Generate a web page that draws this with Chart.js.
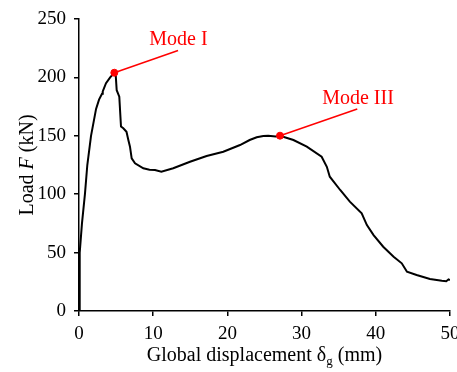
<!DOCTYPE html>
<html>
<head>
<meta charset="utf-8">
<script src="https://cdn.jsdelivr.net/npm/chart.js@4.4.1/dist/chart.umd.min.js"></script>
<style>
  html, body { margin: 0; padding: 0; background: #fff; }
  #wrap { width: 457px; height: 372px; }
</style>
</head>
<body>
<div id="wrap"><canvas id="loadChart"></canvas></div>
<script>
// load-displacement curve (mm, kN)
let dispMm = [0, 0.06, 0.13, 0.4, 0.8, 1.12, 1.62, 2.3, 2.7, 3.1, 3.2, 3.64, 4.2, 4.76,
  4.95, 5.08, 5.43, 5.66, 5.97, 6.4, 6.65, 6.87, 7.1, 7.55, 8.67, 9.5, 10.24, 11.1, 12.7, 14.96, 17.2, 19.45,
  21.7, 23.0, 23.95, 24.84, 25.5, 26.5, 27.09, 28.9, 30.7, 32.7, 33.4, 33.8, 35.2, 36.5, 38.1, 38.8, 39.7,
  41.0, 42.4, 43.5, 44.2, 45.5, 47.3, 48.9, 49.5, 49.8, 50];
let loadKn = [0, 25, 50, 75, 100, 125, 150, 173, 181, 186, 188, 195, 200, 204,
  202, 189, 183.5, 158, 156.4, 153.5, 146.4, 140.7, 130.7, 126.5, 122.2, 121, 120.7, 119.3, 122.2, 127.8, 132.7, 136.4,
  142.1, 146.4, 148.7, 149.8, 150, 149.5, 150.1, 146.4, 140.7, 132.1, 123.5, 115, 103.6, 93.6, 83.6, 73.6, 65,
  55, 46.5, 40.8, 33.6, 30.8, 27.4, 25.9, 25.5, 27.1, 26.5];

// failure modes: marked point, end of leader line, label centre
let modeNames = ['Mode I', 'Mode III'];
let modeX = [4.76, 27.09];
let modeY = [204, 150.1];
let leaderX = [13.35, 37.5];
let leaderY = [223, 173];
let labelX = [13.4, 37.6];
let labelY = [232.5, 182];

let xTicks = [0, 10, 20, 30, 40, 50];
let yTicks = [0, 50, 100, 150, 200, 250];

const serif = '"Liberation Serif", "Times New Roman", serif';

let curve = dispMm.map((d, i) => ({ x: d, y: loadKn[i] }));

let leaderSets = modeNames.map((name, i) => ({
  label: name + ' leader',
  data: [{ x: modeX[i], y: modeY[i] }, { x: leaderX[i], y: leaderY[i] }],
  borderColor: '#ff0000',
  borderWidth: 1.5,
  pointRadius: 0,
  showLine: true,
  order: 1
}));

// draws the mode names and the axis titles (italic F, subscript g)
const textPlugin = {
  id: 'textPlugin',
  afterDatasetsDraw(chart) {
    const ctx = chart.ctx;
    const xs = chart.scales.x, ys = chart.scales.y;
    ctx.save();
    ctx.fillStyle = '#ff0000';
    ctx.font = '20px ' + serif;
    ctx.textAlign = 'center';
    ctx.textBaseline = 'middle';
    modeNames.forEach((name, i) => {
      ctx.fillText(name, xs.getPixelForValue(labelX[i]), ys.getPixelForValue(labelY[i]));
    });
    ctx.restore();

    const drawRuns = (runs, cx, baseY) => {
      let total = 0;
      runs.forEach(r => { ctx.font = r.font; r.w = ctx.measureText(r.t).width; total += r.w; });
      let x = cx - total / 2;
      runs.forEach(r => {
        ctx.font = r.font;
        ctx.fillText(r.t, x, baseY + (r.dy || 0));
        x += r.w;
      });
    };

    ctx.save();
    ctx.fillStyle = '#000';
    ctx.textAlign = 'left';
    ctx.textBaseline = 'alphabetic';
    const area = chart.chartArea;
    drawRuns([
      { t: 'Global displacement δ', font: '20px ' + serif },
      { t: 'g', font: '13px ' + serif, dy: 4 },
      { t: ' (mm)', font: '20px ' + serif }
    ], (area.left + area.right) / 2, 361);

    ctx.translate(33, (area.top + area.bottom) / 2);
    ctx.rotate(-Math.PI / 2);
    drawRuns([
      { t: 'Load ', font: '20px ' + serif },
      { t: 'F', font: 'italic 20px ' + serif },
      { t: ' (kN)', font: '20px ' + serif }
    ], 0, 0);
    ctx.restore();
  }
};

new Chart(document.getElementById('loadChart'), {
  type: 'scatter',
  data: {
    datasets: [
      {
        label: 'Load',
        data: curve,
        showLine: true,
        borderColor: '#000',
        borderWidth: 2,
        pointRadius: 0,
        tension: 0,
        order: 2
      },
      ...leaderSets,
      {
        label: 'Modes',
        data: modeX.map((x, i) => ({ x: x, y: modeY[i] })),
        backgroundColor: '#ff0000',
        borderColor: '#ff0000',
        pointRadius: 3.5,
        order: 0
      }
    ]
  },
  options: {
    responsive: true,
    maintainAspectRatio: false,
    animation: false,
    events: [],
    layout: { padding: { top: 19, right: 7, bottom: 0, left: 0 } },
    plugins: { legend: { display: false }, tooltip: { enabled: false } },
    scales: {
      x: {
        type: 'linear',
        min: 0,
        max: 50,
        afterBuildTicks: s => { s.ticks = xTicks.map(v => ({ value: v })); },
        afterFit: s => { s.height = 61; s.paddingLeft = 0; s.paddingRight = 0; },
        ticks: { color: '#000', font: { family: serif, size: 19 }, padding: 7, maxRotation: 0 },
        grid: { drawOnChartArea: false, drawTicks: true, tickLength: 5, color: '#000', lineWidth: 1.5 },
        border: { color: '#000', width: 1.5 }
      },
      y: {
        min: 0,
        max: 250,
        afterBuildTicks: s => { s.ticks = yTicks.map(v => ({ value: v })); },
        afterFit: s => { s.width = 79; s.paddingTop = 0; s.paddingBottom = 0; },
        ticks: { color: '#000', font: { family: serif, size: 19 }, padding: 8 },
        grid: { drawOnChartArea: false, drawTicks: true, tickLength: 5, color: '#000', lineWidth: 1.5 },
        border: { color: '#000', width: 1.5 }
      }
    }
  },
  plugins: [textPlugin]
});
</script>
</body>
</html>
